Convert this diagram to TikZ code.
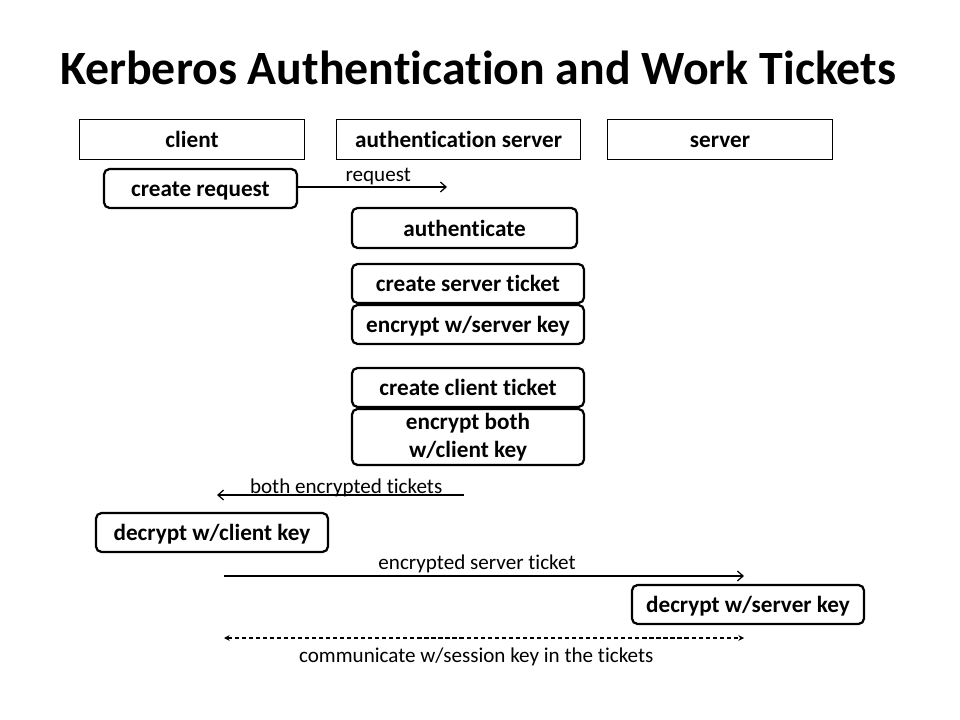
\documentclass[tikz,border=0pt]{standalone}
\usepackage{fontspec}
\setmainfont{Carlito}[Ligatures=NoCommon]
\usetikzlibrary{arrows.meta}
\begin{document}
\begin{tikzpicture}[x=0.025cm,y=-0.025cm,
 lane/.style={draw,line width=.7pt,minimum height=.975cm,inner sep=0pt,text height=15pt,text depth=3pt,font=\bfseries\fontsize{16.5}{18}\selectfont},
 boxbase/.style={draw,line width=1.6pt,rounded corners=4pt,minimum height=.975cm,minimum width=5.8cm,inner sep=0pt,font=\bfseries\fontsize{16.5}{18}\selectfont,align=center},
 stepbox/.style={boxbase,text height=15pt,text depth=3pt},
 msg/.style={line width=.9pt,-{Straight Barb[length=4pt,width=7pt]}},
 lbl/.style={font=\fontsize{15}{17}\selectfont,inner sep=0pt,anchor=base}]
\useasboundingbox(0,0)rectangle(960,720);
\node[font=\bfseries\fontsize{34}{38}\selectfont](title)at(478,68){Kerberos Authentication and Work Tickets};
% lanes
\node[lane,minimum width=5.6cm](client)at(192,139.5){client};
\node[lane,minimum width=6.075cm](as)at(458.5,139.5){authentication server};
\node[lane,minimum width=5.6cm](server)at(720,139.5){server};
% steps
\node[stepbox,minimum width=4.825cm](req)at(200.5,188.5){create request};
\node[stepbox,minimum width=5.625cm,minimum height=1cm](auth)at(464.5,228){authenticate};
\node[stepbox](cst)at(468,283.5){create server ticket};
\node[stepbox](esk)at(468,324.5){encrypt w/server key};
\node[stepbox](cct)at(468,387.5){create client ticket};
\node[boxbase,minimum height=1.4cm](ebc)at(468,437){encrypt both\\[2pt]w/client key};
\node[stepbox](dck)at(212,532.5){decrypt w/client key};
\node[stepbox](dsk)at(748,604.5){decrypt w/server key};
% messages
\coordinate(reqend)at(447,187);\coordinate(bothst)at(464,495);\coordinate(bothend)at(217,495);
\coordinate(sst)at(224,576);\coordinate(send)at(744,576);\coordinate(cl)at(224,638);\coordinate(cr)at(744,638);
\draw[msg](req.east|-reqend)--(reqend)node[lbl,midway,xshift=4pt,yshift=4pt]{request};
\draw[msg](bothst)--(bothend)node[lbl,midway,xshift=4pt,yshift=1pt]{both encrypted tickets};
\draw[msg](sst)--(send)node[lbl,midway,xshift=-5pt,yshift=4.8pt]{encrypted server ticket};
\draw[line width=.9pt,dashed,dash pattern=on 3pt off 2pt,{Stealth[length=4pt,width=4pt]}-{Stealth[length=4pt,width=4pt]}](cl)--(cr)node[lbl,midway,xshift=-5.5pt,yshift=-17.5pt]{communicate w/session key in the tickets};
\end{tikzpicture}
\end{document}
